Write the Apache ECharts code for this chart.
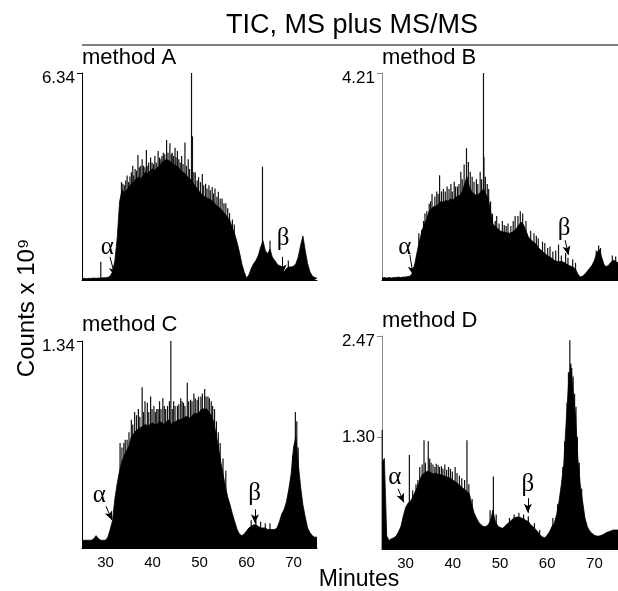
<!DOCTYPE html>
<html>
<head>
<meta charset="utf-8">
<script src="https://cdn.jsdelivr.net/npm/echarts@6/dist/echarts.min.js"></script>
<style>
html, body { margin: 0; padding: 0; background: #fff; }
#main { width: 618px; height: 591px; }
</style>
</head>
<body>
<div id="main"></div>
<script>
// retention time grid (minutes), one value every half minute
var minutes = [25,25.5,26,26.5,27,27.5,28,28.5,29,29.5,30,30.5,31,31.5,32,32.5,33,33.5,34,34.5,
  35,35.5,36,36.5,37,37.5,38,38.5,39,39.5,40,40.5,41,41.5,42,42.5,43,43.5,44,44.5,
  45,45.5,46,46.5,47,47.5,48,48.5,49,49.5,50,50.5,51,51.5,52,52.5,53,53.5,54,54.5,
  55,55.5,56,56.5,57,57.5,58,58.5,59,59.5,60,60.5,61,61.5,62,62.5,63,63.5,64,64.5,
  65,65.5,66,66.5,67,67.5,68,68.5,69,69.5,70,70.5,71,71.5,72,72.5,73,73.5,74,74.5,75];

// TIC envelope, counts x 10^9
var ticA = [.04,.05,.04,.05,.05,.06,.05,.06,.06,.07,
  .07,.08,.12,.25,.6,1.3,2.4,2.75,2.7,2.75,
  2.85,2.95,3.0,3.1,3.15,3.1,3.2,3.3,3.25,3.35,
  3.4,3.35,3.45,3.5,3.6,3.65,3.7,3.65,3.6,3.55,
  3.5,3.45,3.35,3.3,3.25,3.15,3.1,3.0,2.9,2.8,
  2.7,2.62,2.56,2.52,2.48,2.45,2.38,2.3,2.24,2.18,
  2.1,2.0,1.92,1.8,1.6,1.4,1.15,.85,.5,.25,
  .06,.15,.35,.5,.6,.75,1.0,1.2,.9,.8,
  .95,.7,.6,.5,.42,.35,.25,.35,.4,.4,
  .42,.5,.7,1.05,1.35,.9,.5,.25,.12,.08,
  .05];
var ticB = [.04,.05,.04,.05,.04,.05,.05,.06,.05,.06,
  .06,.07,.08,.15,.35,.6,.82,1.0,1.15,1.25,
  1.4,1.45,1.5,1.5,1.55,1.6,1.58,1.62,1.6,1.65,
  1.62,1.68,1.7,1.72,1.8,1.95,2.1,1.9,1.8,1.75,
  1.72,1.75,1.8,1.85,1.75,1.65,1.4,1.15,1.08,1.05,
  1.0,.98,.97,.96,.95,.97,1.0,1.05,1.12,1.18,
  1.12,1.0,.88,.82,.78,.74,.68,.62,.58,.54,
  .5,.47,.44,.4,.38,.37,.38,.36,.33,.3,
  .28,.26,.22,.12,.06,.08,.12,.18,.24,.3,
  .4,.55,.62,.48,.32,.27,.3,.36,.4,.38,
  .35];
var ticC = [.05,.05,.05,.05,.05,.06,.08,.06,.05,.05,
  .05,.07,.12,.18,.32,.42,.5,.56,.6,.63,
  .66,.72,.74,.76,.77,.78,.79,.8,.79,.8,
  .81,.8,.8,.82,.81,.8,.82,.83,.8,.81,
  .82,.83,.83,.84,.85,.85,.84,.86,.87,.87,
  .88,.9,.9,.9,.88,.86,.82,.74,.66,.56,
  .48,.4,.33,.28,.22,.17,.12,.09,.08,.09,
  .11,.13,.14,.15,.15,.14,.13,.13,.13,.12,
  .12,.12,.12,.13,.17,.22,.25,.3,.38,.48,
  .65,.72,.55,.4,.28,.2,.13,.1,.08,.07,
  .07];
var ticD = [1.0,1.05,.15,.1,.12,.13,.15,.2,.26,.38,
  .48,.53,.55,.6,.66,.72,.8,.86,.88,.9,
  .9,.88,.87,.88,.86,.86,.85,.84,.83,.82,
  .8,.78,.76,.74,.71,.69,.67,.64,.52,.42,
  .36,.31,.28,.26,.26,.28,.33,.45,.32,.27,
  .25,.24,.26,.29,.31,.34,.36,.37,.37,.36,
  .35,.33,.32,.28,.26,.23,.2,.16,.14,.13,
  .16,.2,.26,.3,.4,.55,.75,.98,1.45,1.9,
  2.15,1.8,1.55,1.05,.75,.55,.36,.26,.21,.18,
  .16,.15,.15,.16,.17,.19,.2,.21,.22,.22,
  .22];

// narrow spikes [minute, counts]
var spikesA = [[29.0,.56],[33.4,3.0],[33.7,2.95],[34.0,2.9],[34.3,3.05],[34.6,3.2],[34.9,3.0],[35.2,3.17],
  [35.5,3.3],[35.8,3.5],[36.0,3.2],[36.3,3.4],[36.6,3.35],[36.9,3.83],[37.2,3.45],[37.5,3.5],[37.8,3.7],
  [38.1,3.5],[38.4,3.45],[38.7,3.98],[39.0,3.5],[39.2,3.6],[39.6,3.75],[39.9,3.6],[40.2,3.55],[40.5,3.8],
  [40.8,3.6],[41.2,3.95],[41.5,3.75],[41.8,3.7],[42.0,3.8],[42.3,3.9],[42.6,3.85],[43.0,4.29],[43.3,3.9],
  [43.7,4.19],[44.0,3.85],[44.2,3.9],[44.5,3.8],[44.8,4.05],[45.0,3.75],[45.3,3.95],[45.6,3.7],[45.9,3.6],
  [46.2,3.8],[46.5,3.55],[46.9,4.21],[47.2,3.5],[47.6,3.7],[47.9,3.4],[48.3,6.34],[48.5,4.4],[48.8,3.3],
  [49.1,3.3],[49.5,3.05],[49.8,3.15],[50.2,3.0],[50.6,3.25],[50.9,2.9],[51.3,2.95],[51.6,2.8],[52.0,2.9],
  [52.3,2.75],[52.7,2.85],[53.0,2.65],[53.3,2.8],[53.7,2.55],[54.0,2.7],[54.4,2.5],[54.8,2.5],[55.2,2.35],
  [55.6,2.35],[56.0,2.2],[56.4,2.05],[57.0,1.85],[57.4,1.7],[63.4,3.47],[65.0,1.2],[68.9,.6]];
var spikesB = [[32.8,.95],[33.4,1.02],[33.8,1.2],[34.1,1.35],[34.5,1.4],[35.0,1.55],[35.3,1.6],[35.6,1.75],
  [36.2,1.7],[36.6,1.8],[36.9,1.75],[37.2,2.13],[37.6,1.8],[38.0,1.85],[38.4,1.8],[38.8,1.9],[39.2,1.85],
  [39.6,1.95],[39.9,1.8],[40.3,2.0],[40.6,1.9],[41.0,1.9],[41.3,1.95],[41.7,2.2],[42.0,2.05],[42.4,2.35],
  [42.9,2.68],[43.3,2.4],[43.7,2.2],[44.1,2.1],[44.5,2.0],[45.0,2.05],[45.3,1.95],[45.8,2.2],[46.1,2.05],
  [46.5,4.21],[46.6,2.5],[46.9,2.1],[47.3,1.95],[47.6,1.85],[48.0,1.6],[48.4,1.35],[49.0,1.2],[49.3,1.3],
  [49.8,1.15],[50.5,1.2],[50.9,1.12],[51.3,1.1],[51.7,1.15],[52.3,1.1],[52.8,1.2],[53.2,1.3],[53.8,1.3],
  [54.3,1.4],[54.8,1.35],[55.5,1.2],[56.5,1.0],[57.2,.95],[57.7,.9],[58.1,.85],[59.0,.78],[59.5,.75],
  [60.1,.65],[60.6,.68],[61.2,.58],[61.8,.6],[62.4,.72],[63.0,.5],[63.9,.55],[64.4,.45],[65.4,.42],
  [66.0,.35],[70.4,.6],[70.9,.7],[71.3,.65],[73.8,.5],[74.5,.48]];
var spikesC = [[33.1,.68],[33.5,.65],[33.9,.68],[34.2,.7],[34.6,.7],[35.0,.75],[35.5,.83],[35.8,.8],
  [36.2,.88],[36.6,.86],[37.0,.9],[37.3,.85],[37.8,1.04],[38.1,.88],[38.4,.95],[38.9,.94],[39.2,.88],
  [39.6,.98],[39.9,.9],[40.3,.92],[40.6,.88],[40.9,.9],[41.2,.9],[41.5,.95],[41.8,.9],[42.2,.97],
  [42.5,.92],[42.8,.9],[43.2,.92],[43.6,.95],[43.9,1.34],[44.2,.9],[44.5,.95],[44.8,.92],[45.3,.92],
  [45.6,.93],[46.0,.97],[46.3,.95],[46.6,.94],[46.9,.92],[47.4,1.07],[47.7,.95],[48.1,.96],[48.4,.95],
  [48.8,1.0],[49.1,.97],[49.5,.96],[49.8,.98],[50.3,.98],[50.6,1.0],[51.1,1.03],[51.4,.98],[51.8,.98],
  [52.1,.97],[52.5,.95],[52.8,.92],[53.2,.9],[53.6,.82],[54.0,.75],[54.4,.68],[55.0,.58],[55.6,.5],
  [61.0,.18],[62.0,.18],[63.0,.17],[64.0,.16],[65.0,.16],[69.8,.6],[70.4,.88],[70.7,.82],[71.0,.65]];
var spikesD = [[25.05,1.38],[30.8,1.09],[31.5,.68],[32.2,.75],[32.6,.8],[33.0,.95],[33.5,.98],[33.9,1.26],
  [34.2,1.0],[34.8,1.25],[35.1,1.05],[35.4,1.0],[35.8,.98],[36.2,.95],[36.5,.99],[36.9,.97],[37.2,.95],
  [37.6,.96],[37.9,.93],[38.3,.98],[38.7,.92],[39.1,.95],[39.5,.93],[39.9,.9],[40.5,.95],[40.9,.88],
  [41.4,.85],[41.9,.82],[42.5,.8],[43.0,1.26],[43.4,.75],[44.1,.58],[47.9,.45],[48.6,.84],[49.2,.4],
  [52.0,.36],[53.0,.4],[54.0,.42],[55.0,.4],[56.0,.38],[57.3,.3],[58.4,.22],[61.2,.36],[62.2,.52],
  [62.9,.65],[63.3,.95],[63.7,1.25],[64.2,1.7],[64.5,2.05],[64.8,2.42],[65.2,2.1],[65.5,2.0],[65.8,1.8],
  [66.1,1.65],[66.4,1.3],[66.8,1.0],[67.3,.7]];

// labelled arrows: [text, label min, label counts, arrow from min, from counts, to min, to counts]
var marksA = [['α',30.4,1.0,30.96,.71,32.0,.12],['β',67.8,1.27,67.7,.71,67.7,.2]];
var marksB = [['α',29.85,.67,30.9,.51,31.6,.1],['β',63.6,1.05,63.8,.81,64.5,.51]];
var marksC = [['α',28.7,.34,30.1,.27,31.4,.18],['β',61.7,.35,61.8,.25,61.8,.16]];
var marksD = [['α',27.7,.83,28.4,.7,29.6,.54],['β',55.9,.75,55.9,.59,55.9,.42]];

var yMax = [6.34, 4.21, 1.34, 2.47];
var yTicks = [[6.34], [4.21], [1.34], [1.30, 2.47]];
var xTicks = [30, 40, 50, 60, 70];
var methods = ['method A', 'method B', 'method C', 'method D'];

var sans = '"Liberation Sans", Arial, Helvetica, sans-serif';
var grids = [
  {left: 82, top: 73, width: 235, height: 207},
  {left: 382, top: 73, width: 237, height: 207},
  {left: 82, top: 341, width: 235, height: 207},
  {left: 382, top: 336, width: 237, height: 213}
];
var envs = [ticA, ticB, ticC, ticD];
var spikes = [spikesA, spikesB, spikesC, spikesD];
var marks = [marksA, marksB, marksC, marksD];

var xAxes = [], yAxes = [], series = [];
for (var i = 0; i < 4; i++) {
  var axisCol = (i % 2) ? '#888' : '#000';
  xAxes.push({
    type: 'value', gridIndex: i, min: 25, max: 75,
    axisLine: {show: true, lineStyle: {color: '#000', width: 1}},
    axisTick: {show: false},
    splitLine: {show: false},
    axisLabel: i >= 2 ? {customValues: xTicks, color: '#000', fontSize: 15, fontFamily: sans, margin: 7}
                      : {show: false}
  });
  yAxes.push({
    type: 'value', gridIndex: i, min: 0, max: yMax[i],
    axisLine: {show: true, lineStyle: {color: axisCol, width: 1}},
    axisTick: {show: true, customValues: yTicks[i], length: 5, lineStyle: {color: axisCol}},
    splitLine: {show: false},
    axisLabel: {
      customValues: yTicks[i], margin: 7, color: '#000', fontSize: 17, fontFamily: sans,
      formatter: (function (top) {
        return function (v) { return v === top ? '{t|' + v.toFixed(2) + '}' : v.toFixed(2); };
      })(yMax[i]),
      rich: {t: {fontSize: 17, fontFamily: sans, color: '#000', padding: [10, 0, 0, 0]}}
    }
  });
  series.push({
    type: 'line', xAxisIndex: i, yAxisIndex: i,
    data: minutes.map(function (t, k) { return [t, envs[i][k]]; }),
    symbol: 'none', silent: true, animation: false,
    lineStyle: {color: '#000', width: 0.8},
    areaStyle: {color: '#000', opacity: 1},
    markLine: {
      silent: true, animation: false,
      symbol: ['none', 'arrow'], symbolSize: [6, 9],
      lineStyle: {color: '#000', width: 1, type: 'solid'},
      label: {show: false},
      data: marks[i].map(function (m) { return [{coord: [m[3], m[4]]}, {coord: [m[5], m[6]]}]; })
    },
    markPoint: {
      silent: true, animation: false,
      symbol: 'circle', symbolSize: 0,
      label: {show: true, color: '#000', fontSize: 25, fontFamily: '"Liberation Serif", "DejaVu Serif", serif',
        formatter: function (p) { return p.name; }},
      data: marks[i].map(function (m) { return {name: m[0], coord: [m[1], m[2]]}; })
    }
  });
  series.push({
    type: 'bar', xAxisIndex: i, yAxisIndex: i,
    data: spikes[i], barWidth: 1.2, silent: true, animation: false,
    itemStyle: {color: '#111'}
  });
}

var graphic = [
  {type: 'text', x: 352, y: 26, style: {text: 'TIC, MS plus MS/MS', font: '27px ' + sans, fill: '#000',
    textAlign: 'center', align: 'center', textVerticalAlign: 'middle', verticalAlign: 'middle'}},
  {type: 'line', shape: {x1: 82, y1: 45, x2: 618, y2: 45}, style: {stroke: '#000', lineWidth: 1.2}},
  {type: 'text', x: 359, y: 580, style: {text: 'Minutes', font: '23px ' + sans, fill: '#000',
    textAlign: 'center', align: 'center', textVerticalAlign: 'middle', verticalAlign: 'middle'}},
  {type: 'text', x: 27, y: 308, rotation: Math.PI / 2, style: {text: 'Counts x 10⁹', font: '24px ' + sans, fill: '#000',
    textAlign: 'center', align: 'center', textVerticalAlign: 'middle', verticalAlign: 'middle'}}
];
var methodPos = [[82, 58], [382, 58], [82, 325], [382, 321]];
for (var j = 0; j < 4; j++) {
  graphic.push({type: 'text', x: methodPos[j][0], y: methodPos[j][1], style: {text: methods[j], font: '22px ' + sans,
    fill: '#000', textAlign: 'left', align: 'left', textVerticalAlign: 'middle', verticalAlign: 'middle'}});
}

var myChart = echarts.init(document.getElementById('main'));
myChart.setOption({
  animation: false,
  backgroundColor: '#fff',
  grid: grids,
  xAxis: xAxes,
  yAxis: yAxes,
  series: series,
  graphic: graphic
});
</script>
</body>
</html>
